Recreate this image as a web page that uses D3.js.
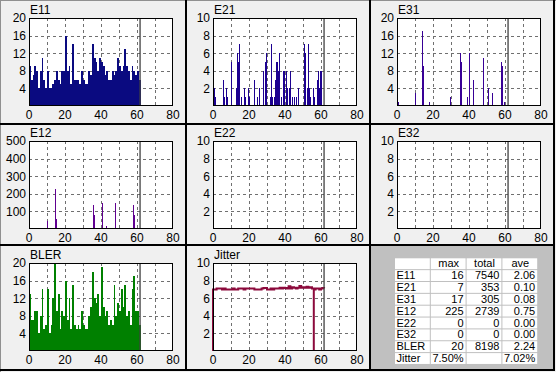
<!DOCTYPE html>
<html><head><meta charset="utf-8">
<script src="https://cdn.jsdelivr.net/npm/d3@7"></script>
<style>
html,body{margin:0;padding:0;background:#f0f0f0;}
svg{display:block;font-family:"Liberation Sans",Arial,sans-serif;}
</style></head><body>
<svg id="c" width="556" height="372"></svg>
<script>
// ---------- data ----------
const xTicks = [0, 20, 40, 60, 80];
const xGrid = [10, 20, 30, 40, 50, 60, 70];
const cursorX = 61.7;

// dense series, one value per unit starting at x = 0
const e11 = [9,6,7,9,8,4,8,11,6,4, 8,4,4,5,6,8,6,5,8,8, 16,8,9,5,14,6,6,6,5,8,
             6,5,5,8,7,14,11,10,8,11, 10,9,7,8,6,6,8,7,8,11, 9,8,9,13,9,8,6,9,8,7, 8,6];
const bler = [13,7,7,9,9,4,8,14,5,6, 14,4,6,12,20,9,13,5,9,8, 16,7,12,5,15,6,5,6,5,9,
              6,5,5,8,10,18,12,11,13,8, 19,10,8,9,6,7,6,15,8,11, 9,14,10,15,8,9,6,14,17,9, 9,6];

// sparse series as [x, value]
const e21 = [[0,3],[0.5,2],[1,1],[5.5,3],[6,1],[7,2],[7.5,1],[8,1],[10,5],[12.5,2],[13,1],[13.5,6],[14,5],[14.7,7],
  [15.5,1],[17,2],[18,1],[19.5,2],[20,1],[22.5,1],[23,3],[24.5,1],[25.5,2],[27.5,4],[29,5],[29.5,6],[31.5,1],[32,7],
  [33,1],[34,1],[34.5,3],[35,5],[35.5,5],[36,4],[36.5,6],[37.5,1],[38,1],[39,4],[39.5,4],[40.5,4],[41,2],[42,2],
  [42.5,4],[43,1],[44,1],[45,1],[46,1],[47,2],[50.5,7],[51,6],[52,2],[53,7],[53.5,2],[54,1],[55.5,2],[56,1],
  [57.5,2],[58,3],[58.5,4],[59,2],[59.5,4],[60,4]];
const e31 = [[0,1],[0.5,1],[10,3],[14,17],[14.5,9],[17.5,1],[29.5,2],[35,12],[35.5,10],[39,2],[40,12],[42,6],
  [47.5,11],[50.5,4],[53,3],[57.5,10],[58,1],[58.5,9],[59.5,1]];
const e12 = [[10,45],[14.5,225],[15,55],[35.5,135],[36,80],[40.5,150],[43,15],[47.5,150],[57.5,135],[58.5,80]];
const e22 = [];
const e32 = [];
const jitter = [[0,0],[0,7.0],[1,7.0],[2,7.1],[3,7.1],[4,7.1],[5,7.0],[6,7.1],[7,7.0],[8,7.0],[9,7.0],[10,7.0],
  [11,7.1],[12,7.0],[13,7.0],[14,7.1],[15,7.1],[16,7.1],[17,7.0],[18,7.1],[19,7.1],[20,7.1],[21,7.1],[22,7.1],
  [23,7.0],[24,7.0],[25,7.0],[26,7.0],[27,7.1],[28,7.15],[29,7.15],[30,7.0],[31,7.0],[32,7.1],[33,7.0],[34,7.1],
  [35,7.1],[36,7.1],[37,7.2],[38,7.1],[39,7.2],[40,7.15],[41,7.1],[42,7.35],[43,7.1],[44,7.25],[45,7.2],[46,7.1],
  [47,7.2],[48,7.4],[49,7.2],[50,7.25],[51,7.2],[52,7.3],[53,7.2],[54,7.25],[55,7.1],[56,0],[56,7.0],
  [57,7.1],[58,7.1],[59,7.0],[60,7.1],[61,7.15],[61.7,7.1]];

const ticks20 = [4, 8, 12, 16, 20];
const ticks10 = [2, 4, 6, 8, 10];
const ticks500 = [100, 200, 300, 400, 500];

const tableCols = ["", "max", "total", "ave"];
const tableRows = ["E11","E21","E31","E12","E22","E32","BLER","Jitter"];
const tableMax = ["16","7","17","225","0","0","20","7.50%"];
const tableTotal = ["7540","353","305","2739","0","0","8198",""];
const tableAve = ["2.06","0.10","0.08","0.75","0.00","0.00","2.24","7.02%"];

// ---------- layout ----------
const svg = d3.select("#c");
const W = 556, H = 372;
const colX = [0, 184, 368];
const rowY = [0, 123, 245];
const PL = 29, PT = 18, PW = 144, PH = 88;

svg.append("rect").attr("width", W).attr("height", H).attr("fill", "#f0f0f0");

const panels = [
  {name:"E11", c:0, r:0, kind:"dense", data:e11, yMax:20, ticks:ticks20, color:"#0a0a80"},
  {name:"E21", c:1, r:0, kind:"sparse", data:e21, yMax:10, ticks:ticks10, color:"#1c0090"},
  {name:"E31", c:2, r:0, kind:"sparse", data:e31, yMax:20, ticks:ticks20, color:"#380096"},
  {name:"E12", c:0, r:1, kind:"sparse", data:e12, yMax:500, ticks:ticks500, color:"#600090"},
  {name:"E22", c:1, r:1, kind:"sparse", data:e22, yMax:10, ticks:ticks10, color:"#600090"},
  {name:"E32", c:2, r:1, kind:"sparse", data:e32, yMax:10, ticks:ticks10, color:"#600090"},
  {name:"BLER", c:0, r:2, kind:"dense", data:bler, yMax:20, ticks:ticks20, color:"#008000"},
  {name:"Jitter", c:1, r:2, kind:"line", data:jitter, yMax:10, ticks:ticks10, color:"#8c0a3c"}
];

const x = d3.scaleLinear().domain([0, 80]).range([0, PW]);

panels.forEach(p => {
  const g = svg.append("g").attr("transform", `translate(${colX[p.c] + PL},${rowY[p.r] + PT})`);
  const y = d3.scaleLinear().domain([0, p.yMax]).range([PH, 0]);
  g.append("rect").attr("width", PW).attr("height", PH).attr("fill", "#fff");
  // grid
  g.selectAll(".gx").data(xGrid).join("line")
    .attr("x1", d => Math.round(x(d)) + 0.5).attr("x2", d => Math.round(x(d)) + 0.5)
    .attr("y1", 0).attr("y2", PH)
    .attr("stroke", "#707070").attr("stroke-dasharray", "3,3");
  g.selectAll(".gy").data(p.ticks.filter(t => t < p.yMax)).join("line")
    .attr("x1", 0).attr("x2", PW)
    .attr("y1", d => Math.round(y(d)) + 0.5).attr("y2", d => Math.round(y(d)) + 0.5)
    .attr("stroke", "#707070").attr("stroke-dasharray", "3,3");
  // marks
  if (p.kind === "dense") {
    g.selectAll(".b").data(p.data).join("rect")
      .attr("x", (d, i) => x(i)).attr("width", x(1) - x(0))
      .attr("y", d => y(d)).attr("height", d => PH - y(d))
      .attr("fill", p.color).attr("shape-rendering", "crispEdges");
  } else if (p.kind === "sparse") {
    g.selectAll(".b").data(p.data).join("rect")
      .attr("x", d => Math.round(x(d[0]))).attr("width", 1)
      .attr("y", d => y(d[1])).attr("height", d => PH - y(d[1]))
      .attr("fill", p.color).attr("shape-rendering", "crispEdges");
  } else {
    const line = d3.line().x(d => x(d[0])).y(d => y(d[1])).curve(d3.curveStepAfter);
    g.append("path").attr("d", line(p.data)).attr("fill", "none")
      .attr("stroke", p.color).attr("stroke-width", 2);
  }
  // cursor
  g.append("line").attr("x1", x(cursorX)).attr("x2", x(cursorX)).attr("y1", 0).attr("y2", PH)
    .attr("stroke", "#404040").attr("stroke-width", 1.3);
  // frame
  g.append("rect").attr("x", 0.5).attr("y", 0.5).attr("width", PW - 1).attr("height", PH - 1)
    .attr("fill", "none").attr("stroke", "#000");
  // labels
  g.selectAll(".yl").data(p.ticks).join("text")
    .attr("x", -3).attr("y", d => y(d)).attr("dy", "0.36em")
    .attr("text-anchor", "end").attr("font-size", 12).attr("fill", "#000")
    .text(d => d);
  g.selectAll(".xl").data(xTicks).join("text")
    .attr("x", d => x(d)).attr("y", PH + 13)
    .attr("text-anchor", "middle").attr("font-size", 12).attr("fill", "#000")
    .text(d => d);
  g.append("text").attr("x", 1).attr("y", -4.5).attr("font-size", 12).attr("fill", "#000").text(p.name);
});

// table area
const TX = 371, TY = 246;
svg.append("rect").attr("x", TX).attr("y", TY).attr("width", 553 - TX).attr("height", 369 - TY).attr("fill", "#c0c0c0");
const t0x = 395, t0y = 258.3, cw = 35.8, rh = 11.85;
const tbl = [tableCols].concat(tableRows.map((r, i) => [r, tableMax[i], tableTotal[i], tableAve[i]]));
const tg = svg.append("g");
tbl.forEach((row, ri) => {
  row.forEach((cell, ci) => {
    const cx = t0x + ci * cw, cy = t0y + ri * rh;
    tg.append("rect").attr("x", cx).attr("y", cy).attr("width", cw - 1).attr("height", rh - 1).attr("fill", "#fff");
    let tx, anchor;
    if (ri === 0) { tx = cx + cw / 2; anchor = "middle"; }
    else if (ci === 0) { tx = cx + 1.5; anchor = "start"; }
    else { tx = cx + cw - 3; anchor = "end"; }
    tg.append("text").attr("x", tx).attr("y", cy + 9).attr("text-anchor", anchor)
      .attr("font-size", 11).attr("fill", "#000").text(cell);
  });
});

// panel frames
svg.append("rect").attr("x", 0).attr("y", 0).attr("width", W).attr("height", 1).attr("fill", "#909090");
svg.append("rect").attr("x", 0).attr("y", 0).attr("width", 1).attr("height", H).attr("fill", "#909090");
[185, 369, 553].forEach(v => svg.append("rect").attr("x", v).attr("y", 0).attr("width", 2).attr("height", 371).attr("fill", "#000"));
[123, 244, 369].forEach(v => svg.append("rect").attr("x", 0).attr("y", v).attr("width", 555).attr("height", 2).attr("fill", "#000"));
</script>
</body></html>
